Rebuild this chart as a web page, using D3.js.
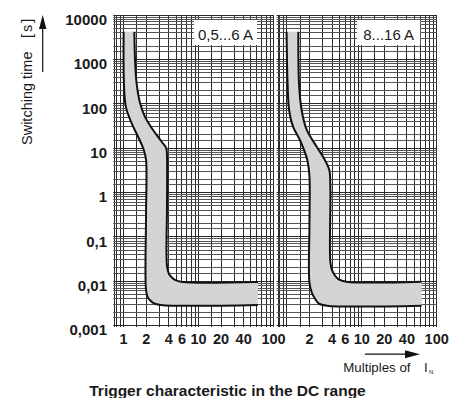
<!DOCTYPE html>
<html><head><meta charset="utf-8">
<script src="https://cdn.jsdelivr.net/npm/d3@7"></script>
<style>
body{margin:0;background:#fff}
svg{display:block}
text{font-family:"Liberation Sans",Arial,Helvetica,sans-serif;fill:#1a1a1a}
</style>
</head><body>
<svg id="c" width="450" height="398"></svg>
<script>
// ---- data ----
const timeTicks = [10000, 1000, 100, 10, 1, 0.1, 0.01, 0.001];
const timeTickLabels = ["10000", "1000", "100", "10", "1", "0,1", "0,01", "0,001"];
const currentTicksLeft = [1, 2, 4, 6, 10, 20, 40, 100];
const currentTicksRight = [2, 4, 6, 10, 20, 40, 100];
const gridMantissas = [1, 1.5, 2, 3, 4, 5, 6, 7, 8, 9];
const panelNames = ["0,5...6 A", "8...16 A"];

// Panel A (0,5...6 A): lower boundary (fastest trip) and upper boundary
const lowA_I = [1.0, 1.01, 1.07, 1.28, 1.56, 1.86, 1.99, 1.99, 1.99, 2.10, 2.27, 2.50, 3.15, 62];
const lowA_t = [4200, 288, 86, 36, 18, 9, 5.4, 0.3, 0.0063, 0.0043, 0.00365, 0.0032, 0.0029, 0.0029];
const highA_I = [1.39, 1.42, 1.49, 1.66, 1.92, 2.47, 3.22, 3.70, 3.79, 3.79, 3.79, 4.03, 4.38, 4.83, 6.09, 62];
const highA_t = [4200, 968, 288, 102, 51, 25.5, 13.9, 9.9, 6.4, 0.5, 0.022, 0.0145, 0.0122, 0.0107, 0.0096, 0.0096];

// Panel B (8...16 A)
const lowB_I = [0.99, 1.02, 1.07, 1.21, 1.49, 1.87, 2.0, 2.0, 2.0, 2.16, 2.38, 2.68, 3.4, 63];
const lowB_t = [4200, 288, 72, 30, 15.2, 5.4, 2.26, 0.2, 0.0091, 0.0054, 0.004, 0.0031, 0.0028, 0.0028];
const highB_I = [1.42, 1.45, 1.57, 1.84, 2.5, 3.21, 3.68, 3.8, 3.8, 3.99, 4.37, 4.93, 6.24, 63];
const highB_t = [4200, 288, 72, 25.6, 10.7, 5.4, 3.2, 1.35, 0.027, 0.0179, 0.0134, 0.0109, 0.0097, 0.0097];

// ---- drawing ----
const svg = d3.select("#c");
const y = d3.scaleLog().domain([0.001, 10000]).range([325.5, 15]);
const crisp = v => Math.round(v - 0.5) + 0.5;
const panels = [
  { x: d3.scaleLog().domain([0.76, 100]).range([114.7, 273.5]), ticks: currentTicksLeft, name: panelNames[0],
    low: lowA_I.map((v, i) => [v, lowA_t[i]]), high: highA_I.map((v, i) => [v, highA_t[i]]) },
  { x: d3.scaleLog().domain([0.76, 100]).range([278, 436.7]), ticks: currentTicksRight, name: panelNames[1],
    low: lowB_I.map((v, i) => [v, lowB_t[i]]), high: highB_I.map((v, i) => [v, highB_t[i]]) }
];

const xGrid = [];
[0.1, 1, 10].forEach(d => gridMantissas.forEach(m => { const v = +(m * d).toPrecision(3); if (v >= 0.76 && v <= 100) xGrid.push(v); }));
xGrid.push(100);
const yGrid = [];
[0.001, 0.01, 0.1, 1, 10, 100, 1000].forEach(d => gridMantissas.forEach(m => yGrid.push(+(m * d).toPrecision(3))));
yGrid.push(10000);

panels.forEach(p => {
  const [x0, x1] = p.x.range();
  const [y0, y1] = [y.range()[1], y.range()[0]];
  const g = svg.append("g");
  // grid
  g.selectAll("line.v").data([0.76].concat(xGrid)).join("line")
    .attr("x1", d => crisp(p.x(d))).attr("x2", d => crisp(p.x(d)))
    .attr("y1", y0).attr("y2", y1 + 1.5)
    .attr("stroke", "#2a2a2a").attr("stroke-width", 1);
  g.selectAll("line.h").data(yGrid).join("line")
    .attr("x1", x0 - 1.5).attr("x2", x1)
    .attr("y1", d => crisp(y(d))).attr("y2", d => crisp(y(d)))
    .attr("stroke", d => (Math.abs(Math.log10(d) - Math.round(Math.log10(d))) < 1e-6 ? "#2a2a2a" : "#555"))
    .attr("stroke-width", 1);

  // band
  const line = d3.line().x(d => p.x(d[0])).y(d => y(d[1])).curve(d3.curveCatmullRom.alpha(0.5));
  const dLow = line(p.low);
  const dHighRev = line(p.high.slice().reverse());
  g.append("path").attr("d", dLow + dHighRev.replace(/^M/, "L") + "Z")
    .attr("fill", "#d4d4d4").attr("stroke", "none");
  [p.low, p.high].forEach(pts => g.append("path").attr("d", line(pts))
    .attr("fill", "none").attr("stroke", "#111").attr("stroke-width", 2));

  // panel label box
  g.append("rect").attr("x", x1 - 16.5 - 63).attr("y", 20).attr("width", 63).attr("height", 25).attr("fill", "#fff");
  g.append("text").attr("x", x1 - 16.5 - 31.5).attr("y", 40).attr("text-anchor", "middle")
    .attr("font-size", 15).text(p.name);

  // x tick labels
  g.selectAll("text.xt").data(p.ticks).join("text")
    .attr("x", d => p.x(d)).attr("y", 343.5).attr("text-anchor", "middle")
    .attr("font-size", 14.5).attr("font-weight", "bold").text(d => d);
});

// y tick labels
svg.selectAll("text.yt").data(timeTicks).join("text")
  .attr("x", 107).attr("y", d => y(d) + 4.5).attr("dy", "0.36em").attr("text-anchor", "end")
  .attr("font-size", 15).attr("font-weight", "bold")
  .text((d, i) => timeTickLabels[i]);

// y axis title with arrow
svg.append("text").attr("transform", "translate(32,145) rotate(-90)")
  .attr("font-size", 14.5).text("Switching time");
svg.append("text").attr("transform", "translate(32,16.7) rotate(-90)")
  .attr("text-anchor", "end").attr("font-size", 14.5).attr("letter-spacing", 2).text("[s]");
svg.append("line").attr("x1", 42.7).attr("x2", 42.7).attr("y1", 72).attr("y2", 27)
  .attr("stroke", "#111").attr("stroke-width", 1.2);
svg.append("path").attr("d", "M42.7,15L46.4,29L39,29Z").attr("fill", "#111");

// x axis title with arrow
svg.append("line").attr("x1", 365).attr("x2", 407).attr("y1", 354.2).attr("y2", 354.2)
  .attr("stroke", "#111").attr("stroke-width", 1.2);
svg.append("path").attr("d", "M420,354.2L405,350.2L405,358.2Z").attr("fill", "#111");
svg.append("text").attr("x", 343.3).attr("y", 371.5).attr("font-size", 13.3).text("Multiples of");
svg.append("text").attr("x", 424).attr("y", 371.5).attr("font-size", 13.3).text("I");
svg.append("text").attr("x", 429).attr("y", 373.5).attr("font-size", 6).text("N");

// chart title
svg.append("text").attr("x", 227.5).attr("y", 395.5).attr("text-anchor", "middle")
  .attr("font-size", 15.5).attr("font-weight", "bold").text("Trigger characteristic in the DC range");
</script>
</body></html>
